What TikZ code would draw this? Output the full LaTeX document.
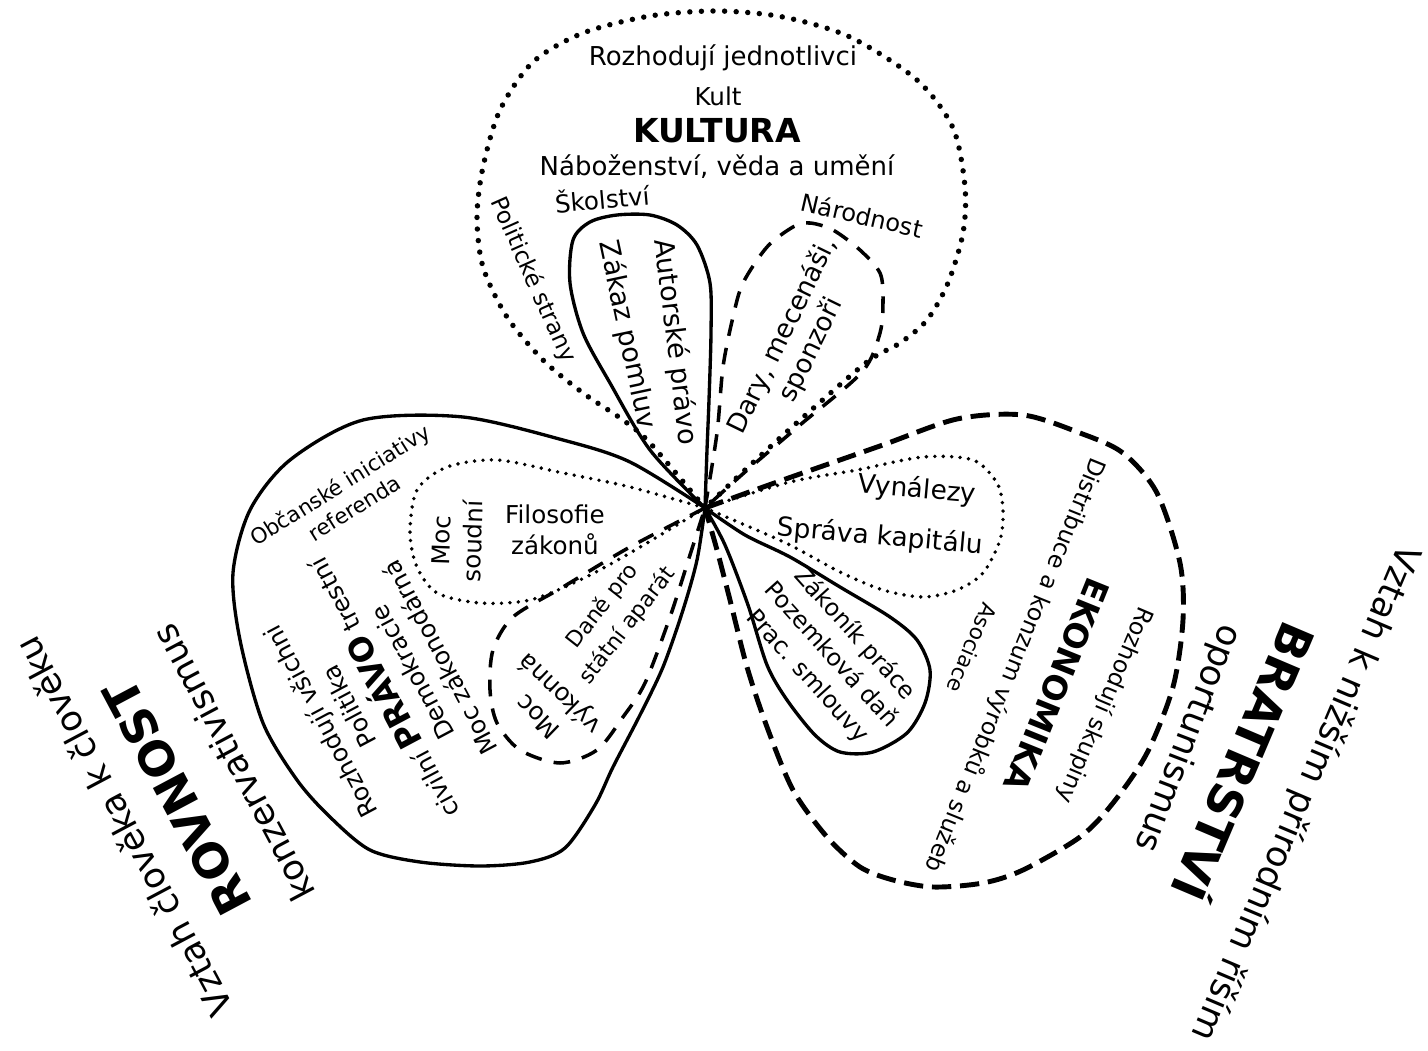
\documentclass[tikz,border=0pt]{standalone}
\usepackage{fontspec}
\setmainfont{DejaVu Sans}

\begin{document}
\begin{tikzpicture}[x=0.02cm, y=-0.02cm,
    lbl/.style={font=\fontsize{#1}{18}\selectfont, align=center},
    lbl/.default=14,
    big/.style={font=\bfseries\fontsize{18.8}{22}\selectfont},
    huge/.style={font=\bfseries\fontsize{27}{32}\selectfont},
    outer/.style={font=\fontsize{20}{24}\selectfont},
    bigdot/.style={line width=3.1pt, line cap=round, dash pattern=on 0pt off 6.6pt},
    smalldot/.style={line width=2.2pt, line cap=round, dash pattern=on 0pt off 4.8pt},
    solidline/.style={line width=1.9pt},
    bigdash/.style={line width=2.8pt, dash pattern=on 11pt off 5pt},
    smalldash/.style={line width=2pt, dash pattern=on 9.5pt off 7pt}]
\path[use as bounding box, fill=white] (0,0) rectangle (1428,1051);

% Common point of all loops
\coordinate (O) at (705,508);

% KULTURA loop
\draw[bigdot] plot[smooth] coordinates {(O) (650,443) (623,420) (583,393) (543,360)
    (507,317) (483,267) (477,217) (483,167) (500,110) (533,62) (583,33) (650,16)
    (717,11) (783,17) (850,37) (917,80) (953,128) (965,187) (963,233) (948,283)
    (927,320) (900,343) (867,362) (800,420) (745,470) (O)};
\draw[solidline] plot[smooth] coordinates {(O) (650,450) (610,383) (583,333) (570,283)
    (573,240) (590,222) (617,215) (650,215) (677,225) (697,245) (710,283) (711,333)
    (709,400) (707,450) (O)};
\draw[smalldash] plot[smooth] coordinates {(O) (717,433) (723,367) (733,317) (743,283)
    (767,247) (793,227) (810,223) (833,230) (860,250) (880,273) (883,300) (880,333)
    (862,372) (800,425) (745,472) (O)};

% PRAVO loop
\draw[solidline] plot[smooth] coordinates {(O) (630,462) (563,440) (463,417) (363,420)
    (290,460) (250,510) (233,573) (240,640) (263,723) (297,780) (330,817) (370,850)
    (420,862) (480,866) (530,862) (565,848) (595,805) (613,767) (640,715) (663,667)
    (683,610) (697,560) (O)};
\draw[smalldot] plot[smooth] coordinates {(O) (630,487) (563,473) (497,460) (447,467)
    (417,490) (410,533) (417,567) (437,593) (480,603) (530,600) (580,580) (630,553) (O)};
\draw[smalldash] plot[smooth] coordinates {(O) (630,547) (563,587) (513,617) (493,650)
    (490,690) (497,723) (520,750) (560,763) (597,750) (623,717) (645,683) (670,617)
    (690,555) (O)};

% EKONOMIKA loop
\draw[bigdash] plot[smooth] coordinates {(O) (780,481) (880,446) (957,419) (1023,415)
    (1080,433) (1123,453) (1157,493) (1180,563) (1183,620) (1173,687) (1147,753)
    (1113,803) (1080,837) (1023,870) (983,883) (933,887) (893,880) (860,867)
    (827,837) (793,790) (767,727) (747,667) (730,600) (717,550) (O)};
\draw[smalldot] plot[smooth] coordinates {(O) (790,482) (857,470) (923,457) (973,460)
    (997,483) (1003,510) (1000,540) (983,573) (957,590) (923,597) (883,590)
    (840,572) (790,545) (745,525) (O)};
\draw[solidline] plot[smooth] coordinates {(O) (745,535) (790,557) (840,587) (890,617)
    (917,640) (930,670) (925,703) (907,733) (873,752) (840,752) (815,735) (787,700)
    (767,665) (748,605) (725,545) (O)};

% Labels of KULTURA
\node[lbl=14.8] (jednotlivci) at (723,58) {Rozhodují jednotlivci};
\node[lbl] (kult) at (718,96) {Kult};
\node[big] (kultura) at (717,131) {KULTURA};
\node[lbl=14.8] (nabozenstvi) at (717,167) {Náboženství, věda a umění};
\node[lbl, rotate=5] (skolstvi) at (602,198) {Školství};
\node[lbl=13.7, rotate=-13] (narodnost) at (862,215) {Národnost};
\node[lbl=13.3, rotate=-66] (strany) at (533,280) {Politické strany};
\node[lbl=15.5, rotate=-78] (pomluvy) at (627,335) {Zákaz pomluv};
\node[lbl=15.5, rotate=-83] (autorske) at (675,342) {Autorské právo};
\node[lbl=15, rotate=64] (dary) at (797,343) {Dary, mecenáši,\\sponzoři};

% Labels of PRAVO
\node[lbl=12.2, rotate=32] (iniciativy) at (347,496) {Občanské iniciativy\\[-2.5pt]referenda};
\node[lbl, rotate=88] (soudni) at (457,541) {Moc\\soudní};
\node[lbl] (filosofie) at (555,530) {Filosofie\\zákonů};
\node[lbl=12.5, rotate=52] (dane) at (615,616) {Daně pro\\státní aparát};
\node[lbl, rotate=136] (vykonna) at (550,704) {Moc\\výkonná};
\node[lbl, rotate=118] (pravo) at (380,690) {Rozhodují všichni\\Politika\\[5pt]civilní
    {\bfseries\fontsize{18.5}{18}\selectfont PRÁVO} trestní\\Demokracie\\Moc zákonodárná};

% Labels of EKONOMIKA
\node[lbl=15, rotate=-5] (vynalezy) at (917,490) {Vynálezy};
\node[lbl=15, rotate=-5] (sprava) at (880,537) {Správa kapitálu};
\node[lbl=13.5, rotate=-48] (zakonik) at (831,655) {Zákoník práce\\Pozemková daň\\Prac. smlouvy};
\node[lbl=12.2, rotate=-113] (asociace) at (972,648) {Asociace};
\node[lbl=13.3, rotate=-112] (distribuce) at (1015,665) {Distribuce a konzum výrobků a služeb};
\node[big, rotate=-112] (ekonomika) at (1057,685) {EKONOMIKA};
\node[lbl=13.3, rotate=-113] (skupiny) at (1105,705) {Rozhodují skupiny};

% Outer labels
\node[outer, rotate=-113] (risim) at (1305,793) {Vztah k nižším přírodním říším};
\node[huge, rotate=-113] (bratrstvi) at (1247,763) {BRATRSTVÍ};
\node[outer, rotate=-111] (oportunismus) at (1187,738) {oportunismus};
\node[outer, rotate=118] (cloveku) at (123,827) {Vztah člověka k člověku};
\node[huge, rotate=118] (rovnost) at (177,797) {ROVNOST};
\node[outer, rotate=118] (konzervativismus) at (233,763) {konzervativismus};
\end{tikzpicture}
\end{document}
